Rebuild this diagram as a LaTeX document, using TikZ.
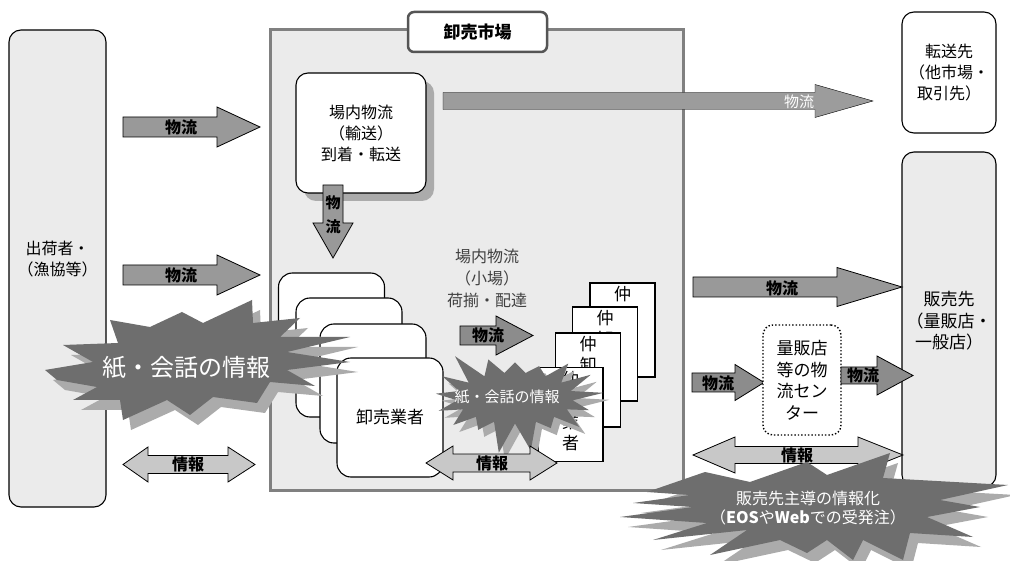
\documentclass[tikz,border=0pt]{standalone}
\usepackage{fontspec}
\setmainfont{Noto Sans CJK JP}
\usetikzlibrary{shapes.symbols}
\definecolor{bgbox}{HTML}{EBEBEB}
\definecolor{flowc}{HTML}{999999}
\definecolor{flowd}{HTML}{8C8C8C}
\definecolor{infoc}{HTML}{C8C8C8}
\definecolor{burstc}{HTML}{6E6E6E}
\definecolor{shadowc}{HTML}{ABABAB}
\definecolor{mkborder}{HTML}{808080}
\definecolor{titleborder}{HTML}{555555}
\definecolor{longarrow}{HTML}{9C9C9C}
\newcommand\rarrow[7]{%
  \draw[#1] (#2,#4-#5) -- (#7,#4-#5) -- (#7,#4-#6) -- (#3,#4) -- (#7,#4+#6) -- (#7,#4+#5) -- (#2,#4+#5) -- cycle;}
\newcommand\darrow[8]{%
  \draw[#1] (#2,#4) -- (#7,#4-#6) -- (#7,#4-#5) -- (#8,#4-#5) -- (#8,#4-#6) -- (#3,#4) -- (#8,#4+#6) -- (#8,#4+#5) -- (#7,#4+#5) -- (#7,#4+#6) -- cycle;}
\newcommand\bigburst[1]{%
  \fill[#1] (45,370) -- (93,362) -- (63,345) -- (118,343) -- (110,320) -- (150,327) -- (182,312) -- (203,323) -- (252,300) -- (253,323) -- (300,318) -- (280,337) -- (350,337) -- (287,352) -- (350,362) -- (287,370) -- (315,386) -- (270,382) -- (257,403) -- (213,397) -- (190,415) -- (167,400) -- (123,420) -- (120,400) -- (73,400) -- (97,387) -- (57,380) -- cycle;}
\newcommand\salesburst[1]{%
  \fill[#1] (705,472) -- (750,482) -- (807,462) -- (827,475) -- (890,453) -- (883,478) -- (1008,485) -- (940,500) -- (980,507) -- (927,517) -- (973,537) -- (910,533) -- (903,560) -- (863,540) -- (853,560) -- (827,540) -- (807,553) -- (780,540) -- (710,555) -- (747,530) -- (653,540) -- (707,523) -- (620,517) -- (693,507) -- (633,503) -- (690,495) -- (647,492) -- cycle;}
\begin{document}
\begin{tikzpicture}[x=1pt,y=-1pt,
  every node/.style={inner sep=0pt, outer sep=0pt},
  txt/.style={font=\fontsize{16}{21}\selectfont, align=center},
  bigtxt/.style={font=\fontsize{17}{21.5}\selectfont, align=center},
  lbl/.style={font=\bfseries\fontsize{16}{18}\selectfont},
  grayframe/.style={draw=black, line width=1.1pt, fill=bgbox, rounded corners=12pt},
  whiteframe/.style={draw=black, line width=1.1pt, fill=white, rounded corners=12pt},
  stackbox/.style={draw=black, line width=1.1pt, fill=white, rounded corners=14pt, minimum width=106pt, minimum height=119pt},
  stackrect/.style={draw=black, line width=1.1pt, fill=white, minimum width=65pt, minimum height=94pt},
  flowarrow/.style={draw=black, line width=0.8pt, fill=flowc},
  flowdark/.style={draw=black, line width=0.8pt, fill=flowd},
  infoarrow/.style={draw=black, line width=0.8pt, fill=infoc},
  burstshape/.style={starburst, draw=none, minimum width=#1},
]
\useasboundingbox (0,0) rectangle (1010,561);
\fill[white] (0,0) rectangle (1010,561);

% outer parties
\node[grayframe, minimum width=97pt, minimum height=477pt] (shipper) at (57.5,268.5) {};
\node[txt] (shippertxt) at (57.5,259) {出荷者・\\（漁協等）};
\node[whiteframe, minimum width=94pt, minimum height=121pt, txt] (transfer) at (949,72.5) {転送先\\（他市場・\\取引先）};
\node[grayframe, minimum width=94pt, minimum height=335pt] (sales) at (949,319.5) {};
\node[bigtxt] (salestxt) at (949,321) {販売先\\（量販店・\\一般店）};

% market
\node[draw=mkborder, line width=3pt, fill=bgbox, minimum width=413pt, minimum height=460pt] (market) at (476.5,260) {};
\node[draw=titleborder, line width=2.5pt, fill=white, rounded corners=6pt, minimum width=139pt, minimum height=40pt, font=\bfseries\fontsize{17}{20}\selectfont] (title) at (477.5,32) {卸売市場};

% in-market transport box with shadow
\fill[shadowc, rounded corners=12pt] (304,81) rectangle (434,201);
\node[whiteframe, minimum width=130pt, minimum height=120pt, txt] (transport) at (361,133) {場内物流\\（輸送）\\到着・転送};

% long flow arrow to transfer
\rarrow{fill=longarrow}{443}{873}{101}{8.5}{16.5}{815}
\node[font=\fontsize{15}{18}\selectfont, text=white] (longlbl) at (799,102) {物流};

% vertical flow arrow
\draw[flowarrow] (323,185) -- (343,185) -- (343,223) -- (353,223) -- (333,258) -- (313,223) -- (323,223) -- cycle;
\node[align=center, font=\bfseries\fontsize{15}{24}\selectfont] (vlbl) at (333,215) {物\\流};

% wholesaler stack
\node[stackbox, bigtxt] (w1) at (331.5,332.5) {卸売業者};
\node[stackbox, bigtxt] (w2) at (349,357.5) {卸売業者};
\node[stackbox, bigtxt] (w3) at (373,383.5) {卸売業者};
\node[stackbox, bigtxt] (w4) at (390,417.5) {卸売業者};

% small market text
\node[txt, text=black!75, font=\fontsize{16}{22}\selectfont] (koba) at (487,278) {場内物流\\（小場）\\荷揃・配達};

% small flow arrow
\rarrow{flowdark}{460}{533}{335.5}{9.5}{19.5}{496}
\node[lbl] (smallflow) at (488,335) {物流};

% intermediate wholesaler stack
\node[stackrect] (n1) at (622.5,330) {};
\node[bigtxt, anchor=north] at (622.5,286) {仲\\卸\\業\\者};
\node[stackrect] (n2) at (605,354) {};
\node[bigtxt, anchor=north] at (605,310) {仲\\卸\\業\\者};
\node[stackrect] (n3) at (588,380) {};
\node[bigtxt, anchor=north] at (588,336) {仲\\卸\\業\\者};
\node[stackrect] (n4) at (570.5,414.5) {};
\node[bigtxt, anchor=north] at (570.5,371) {仲\\卸\\業\\者};

% left arrows
\rarrow{flowarrow}{123}{260}{127}{10}{20}{217}
\node[lbl] (f1) at (181,127) {物流};
\rarrow{flowarrow}{123}{260}{275}{10}{20}{217}
\node[lbl] (f2) at (181,275) {物流};
\darrow{infoarrow}{123}{255}{464.5}{9}{17.5}{148}{228}
\node[lbl] (i1) at (188,464) {情報};

% right side arrows
\rarrow{flowarrow}{693}{902}{287}{10}{19.5}{837}
\node[lbl] (f3) at (782,288) {物流};
\rarrow{flowdark}{692}{764}{382.5}{9.5}{18}{735}
\node[lbl] (f4) at (718,383) {物流};
\node[draw=black, dotted, line width=1.4pt, fill=white, rounded corners=10pt, minimum width=78pt, minimum height=110pt, bigtxt] (center) at (802,380) {量販店\\等の物\\流セン\\ター};
\rarrow{flowdark}{841}{913}{375.5}{8.5}{19.5}{877}
\node[lbl] (f5) at (863,375) {物流};
\darrow{infoarrow}{693}{903}{455}{8.5}{18}{735}{858}
\node[lbl] (i3) at (797,455) {情報};

% big burst (left)
\bigburst{shadowc, shift={(8,10)}}
\bigburst{burstc}
\node[text=white, font=\fontsize{24}{28}\selectfont] (b1t) at (186,368) {紙・会話の情報};

% small burst (middle)
\node[burstshape=180pt, minimum height=115pt, fill=shadowc, starburst point height=32pt, random starburst=3] (b2s) at (521,405) {};
\node[burstshape=180pt, minimum height=115pt, fill=burstc, starburst point height=32pt, random starburst=3] (b2) at (515,398) {};
\node[text=white, font=\fontsize{15}{18}\selectfont] (b2t) at (507,397) {紙・会話の情報};

% middle info arrow
\darrow{infoarrow}{426}{557}{463}{9}{17}{453}{530}
\node[lbl] (i2) at (492,463) {情報};

% bottom-right burst
\salesburst{shadowc, shift={(8,10)}}
\salesburst{burstc}
\node[text=white, align=center, font=\fontsize{16}{19}\selectfont] (b3t) at (808,508) {販売先主導の情報化\\（\textbf{EOS}や\textbf{Web}での受発注）};
\end{tikzpicture}
\end{document}
